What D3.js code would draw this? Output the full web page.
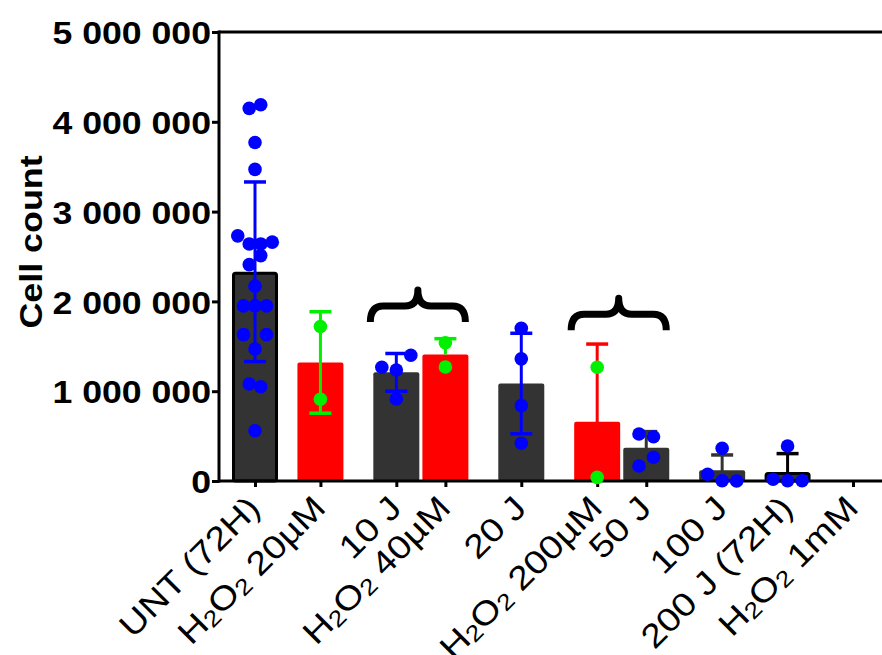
<!DOCTYPE html>
<html><head><meta charset="utf-8">
<script src="https://cdn.jsdelivr.net/npm/d3@7"></script>
<style>body{margin:0;background:#fff}svg{display:block}</style>
</head><body>
<svg id="c" width="882" height="655"></svg>
<script>
// ---------------- DATA ----------------
const categories = ["UNT (72H)", "H₂O₂ 20µM", "10 J", "H₂O₂ 40µM", "20 J", "H₂O₂ 200µM", "50 J", "100 J", "200 J (72H)", "H₂O₂ 1mM"];
const means = [2330000, 1320000, 1210000, 1410000, 1085000, 660000, 370000, 120000, 100000, 0];
const sds   = [1000000, 565000, 210000, 175000, 560000, 865000, 180000, 170000, 205000, 0];
const errorDirection = ["both", "both", "both", "above", "both", "both", "both", "both", "both", "both"];
const pointsUNT    = [4150000, 4190000, 3770000, 3470000, 2730000, 2640000, 2640000, 2660000, 2410000, 2510000, 2170000, 1950000, 1950000, 1950000, 1630000, 1470000, 1630000, 1080000, 1050000, 560000];
const points20uM   = [1720000, 910000];
const points10J    = [1266000, 1236000, 1400000, 913000];
const points40uM   = [1540000, 1270000];
const points20J    = [1700000, 1360000, 840000, 420000];
const points200uM  = [1266000, 40000];
const points50J    = [523000, 493000, 167000, 264000];
const points100J   = [75000, 364000, 3000, 0];
const points200J   = [20000, 390000, 3000, 3000];
const points1mM    = [];
const yTicks = [0, 1000000, 2000000, 3000000, 4000000, 5000000];
const yLabel = "Cell count";
const brackets = [
  {from: "10 J", to: "H₂O₂ 40µM", base: 1770000},
  {from: "H₂O₂ 200µM", to: "50 J", base: 1680000}
];

const pointSets = [pointsUNT, points20uM, points10J, points40uM, points20J, points200uM, points50J, points100J, points200J, points1mM];

// ---------------- STYLE ----------------
const DARK = "#333333", RED = "#ff0000", BLUE = "#0000ff", GREEN = "#00f000", BLACK = "#000000";
const FONT = "'Liberation Sans', Arial, Helvetica, sans-serif";
const errColorMap = {"UNT (72H)": BLUE, "H₂O₂ 20µM": GREEN, "10 J": BLUE, "H₂O₂ 40µM": GREEN, "20 J": BLUE,
  "H₂O₂ 200µM": RED, "50 J": DARK, "100 J": DARK, "200 J (72H)": BLACK, "H₂O₂ 1mM": BLACK};
const isH2O2 = c => c.startsWith("H₂O₂");
const outlined = c => c.includes("(72H)");

// ---------------- LAYOUT ----------------
const svg = d3.select("#c");
const plot = {left: 219, right: 882, top: 32, bottom: 481};
const y = d3.scaleLinear().domain([0, 5000000]).range([plot.bottom, plot.top]);

const paired = new Set();
brackets.forEach(b => { paired.add(b.from); paired.add(b.to); });
const units = [0];
for (let i = 1; i < categories.length; i++) {
  const a = categories[i - 1], b = categories[i];
  const inPair = brackets.some(br => br.from === a && br.to === b);
  const touch = paired.has(a) || paired.has(b);
  units.push(units[i - 1] + (inPair ? 0.75 : (touch ? 1.16 : 1)));
}
const slot = d3.scaleLinear().domain([0, units[units.length - 1]]).range([255, 853]);
const x = d3.scaleOrdinal(categories, units.map(slot));
const barW = 46;

// ---------------- BARS ----------------
const rows = categories.map((c, i) => ({c, i, mean: means[i], sd: sds[i], dir: errorDirection[i], pts: pointSets[i]}));

svg.append("g").selectAll("rect").data(rows.filter(d => d.mean > 0)).join("rect")
  .attr("x", d => outlined(d.c) ? x(d.c) - barW / 2 + 1.5 : x(d.c) - barW / 2)
  .attr("width", d => outlined(d.c) ? barW - 3 : barW)
  .attr("y", d => outlined(d.c) ? y(d.mean) + 1.5 : y(d.mean))
  .attr("height", d => outlined(d.c) ? y(0) - y(d.mean) - 1.5 : y(0) - y(d.mean))
  .attr("rx", 2)
  .attr("fill", d => isH2O2(d.c) ? RED : DARK)
  .attr("stroke", d => outlined(d.c) ? BLACK : "none")
  .attr("stroke-width", 3);

// ---------------- ERROR BARS ----------------
const capW = 22;
const eg = svg.append("g");
rows.filter(d => d.sd > 0 && d.mean > 0).forEach(d => {
  const top = d.mean + d.sd;
  const rawLow = d.mean - d.sd;
  const low = d.dir === "above" ? d.mean : Math.max(0, rawLow);
  const col = errColorMap[d.c];
  const cx = x(d.c);
  eg.append("line").attr("x1", cx).attr("x2", cx).attr("y1", y(low)).attr("y2", y(top))
    .attr("stroke", col).attr("stroke-width", 3);
  eg.append("line").attr("x1", cx - capW / 2).attr("x2", cx + capW / 2).attr("y1", y(top)).attr("y2", y(top))
    .attr("stroke", col).attr("stroke-width", 3.5);
  if (d.dir === "both" && rawLow > 0) {
    eg.append("line").attr("x1", cx - capW / 2).attr("x2", cx + capW / 2).attr("y1", y(low)).attr("y2", y(low))
      .attr("stroke", col).attr("stroke-width", 3.5);
  }
});

// ---------------- AXES ----------------
const fmt = v => d3.format(",")(v).replace(/,/g, " ");
const yAxis = svg.append("g").attr("transform", `translate(${plot.left},0)`)
  .call(d3.axisLeft(y).tickValues(yTicks).tickSize(7).tickFormat(fmt));
yAxis.select(".domain").remove();
yAxis.selectAll(".tick line").attr("stroke", BLACK).attr("stroke-width", 3);
yAxis.selectAll(".tick text")
  .attr("x", 0).attr("dy", null).attr("dominant-baseline", "central")
  .attr("transform", `translate(-8,1) scale(1.15,1)`)
  .attr("font-family", FONT).attr("font-weight", "bold").attr("font-size", 31).attr("fill", BLACK);

// frame lines: left axis, top line, bottom axis
svg.append("line").attr("x1", plot.left).attr("x2", plot.left).attr("y1", plot.top - 1.5).attr("y2", plot.bottom + 1.5)
  .attr("stroke", BLACK).attr("stroke-width", 3);
svg.append("line").attr("x1", plot.left).attr("x2", plot.right).attr("y1", plot.top).attr("y2", plot.top)
  .attr("stroke", BLACK).attr("stroke-width", 3);
svg.append("line").attr("x1", plot.left).attr("x2", plot.right).attr("y1", plot.bottom).attr("y2", plot.bottom)
  .attr("stroke", BLACK).attr("stroke-width", 3);

const xAxis = svg.append("g").attr("transform", `translate(0,${plot.bottom})`)
  .call(d3.axisBottom(x).tickSize(6).tickFormat(""));
xAxis.select(".domain").remove();
xAxis.selectAll(".tick line").attr("stroke", BLACK).attr("stroke-width", 3);

// x labels rotated, with subscripts
const lg = svg.append("g");
categories.forEach(c => {
  const g = lg.append("g").attr("transform", `translate(${x(c) + 7},${plot.bottom + 29}) rotate(-45) scale(1.15,1)`);
  const t = g.append("text").attr("text-anchor", "end").attr("font-family", FONT).attr("font-size", 33).attr("fill", BLACK);
  const parts = c.split("₂");
  parts.forEach((p, k) => {
    if (p.length) t.append("tspan").text(p).attr("dy", k > 0 ? -3 : null);
    if (k < parts.length - 1) {
      t.append("tspan").text("2").attr("font-size", 23).attr("dy", 3);
    }
  });
});

// y label
svg.append("text").attr("transform", `translate(42,242) rotate(-90) scale(1.12,1)`)
  .attr("text-anchor", "middle").attr("font-family", FONT).attr("font-weight", "bold").attr("font-size", 32)
  .attr("fill", BLACK).text(yLabel);

// ---------------- BRACKETS ----------------
function brace(x0, x1, yb, h) {
  const xm = (x0 + x1) / 2, ym = yb - h * 0.5, yt = yb - h, q = 13;
  return `M${x0},${yb} Q${x0},${ym} ${x0 + q},${ym} L${xm - q},${ym} Q${xm},${ym} ${xm},${yt} Q${xm},${ym} ${xm + q},${ym} L${x1 - q},${ym} Q${x1},${ym} ${x1},${yb}`;
}
svg.append("g").selectAll("path").data(brackets).join("path")
  .attr("d", b => brace(x(b.from) - barW / 2 - 3, x(b.to) + barW / 2 - 3, y(b.base), 32))
  .attr("fill", "none").attr("stroke", BLACK).attr("stroke-width", 7).attr("stroke-linejoin", "round");

// ---------------- POINTS (row-grouped scatter) ----------------
const R = 6.8, ROW_THRESH = 15.5;
const pg = svg.append("g");
rows.forEach(d => {
  if (!d.pts.length) return;
  const order = d.pts.map((v, i) => i).sort((a, b) => d.pts[b] - d.pts[a]);
  const groups = [];
  let cur = null;
  order.forEach(i => {
    const py = y(d.pts[i]);
    if (cur && py - cur.y0 < ROW_THRESH) cur.members.push(i);
    else { cur = {y0: py, members: [i]}; groups.push(cur); }
  });
  const maxRow = d3.max(groups, g => g.members.length);
  const spacing = Math.min(14.5, barW / maxRow);
  const placed = [];
  groups.forEach(g => {
    const m = g.members.slice().sort((a, b) => a - b);
    m.forEach((i, k) => placed.push({v: d.pts[i], dx: (k - (m.length - 1) / 2) * spacing}));
  });
  pg.selectAll(null).data(placed).enter().append("circle")
    .attr("cx", p => x(d.c) + p.dx).attr("cy", p => y(p.v)).attr("r", R)
    .attr("fill", isH2O2(d.c) ? GREEN : BLUE);
});
</script>
</body></html>
